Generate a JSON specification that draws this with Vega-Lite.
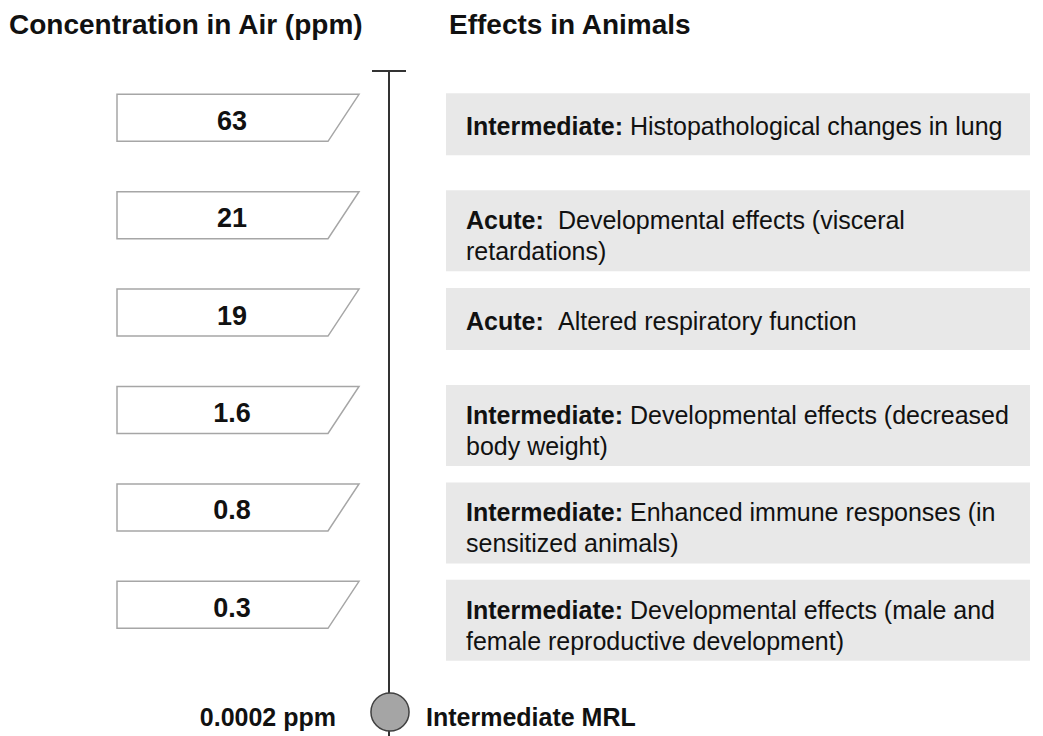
{
  "$schema": "https://vega.github.io/schema/vega-lite/v6.json",
  "width": 1043,
  "height": 736,
  "padding": 0,
  "autosize": {"type": "none"},
  "background": "white",
  "config": {"view": {"stroke": null}, "text": {"font": "Liberation Sans", "color": "#111111"}},
  "datasets": {
    "effects": [
      {"conc": "63", "duration": "Intermediate", "prefix": "Intermediate:", "line1": "Histopathological changes in lung", "line2": "", "lines": 1},
      {"conc": "21", "duration": "Acute", "prefix": "Acute:", "line1": "Developmental effects (visceral", "line2": "retardations)", "lines": 2},
      {"conc": "19", "duration": "Acute", "prefix": "Acute:", "line1": "Altered respiratory function", "line2": "", "lines": 1},
      {"conc": "1.6", "duration": "Intermediate", "prefix": "Intermediate:", "line1": "Developmental effects (decreased", "line2": "body weight)", "lines": 2},
      {"conc": "0.8", "duration": "Intermediate", "prefix": "Intermediate:", "line1": "Enhanced immune responses (in", "line2": "sensitized animals)", "lines": 2},
      {"conc": "0.3", "duration": "Intermediate", "prefix": "Intermediate:", "line1": "Developmental effects (male and", "line2": "female reproductive development)", "lines": 2}
    ],
    "mrl": [
      {"conc": "MRL", "value": "0.0002 ppm", "label": "Intermediate MRL"}
    ],
    "headers": [
      {"left": "Concentration in Air (ppm)", "right": "Effects in Animals"}
    ]
  },
  "layer": [
    {
      "data": {"name": "headers"},
      "mark": {"type": "text", "align": "left", "baseline": "middle", "fontSize": 28, "fontWeight": "bold", "yOffset": -92.1},
      "encoding": {
        "x": {"datum": 9, "type": "quantitative", "scale": {"domain": [0, 1043], "nice": false, "zero": false}, "axis": null},
        "y": {"datum": "63", "type": "nominal", "scale": {"domain": ["63", "21", "19", "1.6", "0.8", "0.3", "MRL"], "range": [69.1, 750.9], "paddingInner": 0, "paddingOuter": 0}, "axis": null},
        "text": {"field": "left"}
      }
    },
    {
      "data": {"name": "headers"},
      "mark": {"type": "text", "align": "left", "baseline": "middle", "fontSize": 28, "fontWeight": "bold", "yOffset": -92.1},
      "encoding": {
        "x": {"datum": 449, "type": "quantitative", "scale": {"domain": [0, 1043], "nice": false, "zero": false}, "axis": null},
        "y": {"datum": "63", "type": "nominal", "scale": {"domain": ["63", "21", "19", "1.6", "0.8", "0.3", "MRL"], "range": [69.1, 750.9], "paddingInner": 0, "paddingOuter": 0}, "axis": null},
        "text": {"field": "right"}
      }
    },
    {
      "data": {"name": "mrl"},
      "mark": {"type": "rule", "stroke": "#333333", "strokeWidth": 2},
      "encoding": {
        "x": {"datum": 389, "type": "quantitative", "scale": {"domain": [0, 1043], "nice": false, "zero": false}, "axis": null},
        "y": {"datum": "63", "type": "nominal", "bandPosition": 0.0195, "scale": {"domain": ["63", "21", "19", "1.6", "0.8", "0.3", "MRL"], "range": [69.1, 750.9], "paddingInner": 0, "paddingOuter": 0}, "axis": null},
        "y2": {"datum": "MRL", "bandPosition": 1}
      }
    },
    {
      "data": {"name": "mrl"},
      "mark": {"type": "rule", "stroke": "#333333", "strokeWidth": 2},
      "encoding": {
        "x": {"datum": 372, "type": "quantitative", "scale": {"domain": [0, 1043], "nice": false, "zero": false}, "axis": null},
        "x2": {"datum": 406},
        "y": {"datum": "63", "type": "nominal", "bandPosition": 0.0195, "scale": {"domain": ["63", "21", "19", "1.6", "0.8", "0.3", "MRL"], "range": [69.1, 750.9], "paddingInner": 0, "paddingOuter": 0}, "axis": null}
      }
    },
    {
      "data": {"name": "effects"},
      "mark": {"type": "point", "shape": "M-1,-0.1942 L1,-0.1942 L0.7438,0.1942 L-1,0.1942 Z", "size": 58564, "filled": true, "fill": "white", "stroke": "#a6a6a6", "strokeWidth": 1.5, "opacity": 1},
      "encoding": {
        "x": {"datum": 238, "type": "quantitative", "scale": {"domain": [0, 1043], "nice": false, "zero": false}, "axis": null},
        "y": {"field": "conc", "type": "nominal", "scale": {"domain": ["63", "21", "19", "1.6", "0.8", "0.3", "MRL"], "range": [69.1, 750.9], "paddingInner": 0, "paddingOuter": 0}, "axis": null}
      }
    },
    {
      "data": {"name": "effects"},
      "mark": {"type": "text", "align": "center", "baseline": "middle", "fontSize": 27, "fontWeight": "bold", "dy": 4},
      "encoding": {
        "x": {"datum": 232, "type": "quantitative", "scale": {"domain": [0, 1043], "nice": false, "zero": false}, "axis": null},
        "y": {"field": "conc", "type": "nominal", "scale": {"domain": ["63", "21", "19", "1.6", "0.8", "0.3", "MRL"], "range": [69.1, 750.9], "paddingInner": 0, "paddingOuter": 0}, "axis": null},
        "text": {"field": "conc"}
      }
    },
    {
      "data": {"name": "effects"},
      "transform": [{"filter": "datum.lines === 1"}],
      "mark": {"type": "bar", "fill": "#e8e8e8", "height": 62, "yOffset": 6.5},
      "encoding": {
        "x": {"datum": 446, "type": "quantitative", "scale": {"domain": [0, 1043], "nice": false, "zero": false}, "axis": null},
        "x2": {"datum": 1030},
        "y": {"field": "conc", "type": "nominal", "scale": {"domain": ["63", "21", "19", "1.6", "0.8", "0.3", "MRL"], "range": [69.1, 750.9], "paddingInner": 0, "paddingOuter": 0}, "axis": null}
      }
    },
    {
      "data": {"name": "effects"},
      "transform": [{"filter": "datum.lines === 2"}],
      "mark": {"type": "bar", "fill": "#e8e8e8", "height": 81, "yOffset": 15.5},
      "encoding": {
        "x": {"datum": 446, "type": "quantitative", "scale": {"domain": [0, 1043], "nice": false, "zero": false}, "axis": null},
        "x2": {"datum": 1030},
        "y": {"field": "conc", "type": "nominal", "scale": {"domain": ["63", "21", "19", "1.6", "0.8", "0.3", "MRL"], "range": [69.1, 750.9], "paddingInner": 0, "paddingOuter": 0}, "axis": null}
      }
    },
    {
      "data": {"name": "effects"},
      "mark": {"type": "text", "align": "left", "baseline": "middle", "fontSize": 25, "fontWeight": "bold", "dy": {"expr": "datum.lines === 2 ? 6 : 9.5"}},
      "encoding": {
        "x": {"datum": 466, "type": "quantitative", "scale": {"domain": [0, 1043], "nice": false, "zero": false}, "axis": null},
        "y": {"field": "conc", "type": "nominal", "scale": {"domain": ["63", "21", "19", "1.6", "0.8", "0.3", "MRL"], "range": [69.1, 750.9], "paddingInner": 0, "paddingOuter": 0}, "axis": null},
        "text": {"field": "prefix"}
      }
    },
    {
      "data": {"name": "effects"},
      "mark": {"type": "text", "align": "left", "baseline": "middle", "fontSize": 25, "dx": {"expr": "datum.duration === 'Acute' ? 92 : 164"}, "dy": {"expr": "datum.lines === 2 ? 6 : 9.5"}},
      "encoding": {
        "x": {"datum": 466, "type": "quantitative", "scale": {"domain": [0, 1043], "nice": false, "zero": false}, "axis": null},
        "y": {"field": "conc", "type": "nominal", "scale": {"domain": ["63", "21", "19", "1.6", "0.8", "0.3", "MRL"], "range": [69.1, 750.9], "paddingInner": 0, "paddingOuter": 0}, "axis": null},
        "text": {"field": "line1"}
      }
    },
    {
      "data": {"name": "effects"},
      "transform": [{"filter": "datum.lines === 2"}],
      "mark": {"type": "text", "align": "left", "baseline": "middle", "fontSize": 25, "dy": 37},
      "encoding": {
        "x": {"datum": 466, "type": "quantitative", "scale": {"domain": [0, 1043], "nice": false, "zero": false}, "axis": null},
        "y": {"field": "conc", "type": "nominal", "scale": {"domain": ["63", "21", "19", "1.6", "0.8", "0.3", "MRL"], "range": [69.1, 750.9], "paddingInner": 0, "paddingOuter": 0}, "axis": null},
        "text": {"field": "line2"}
      }
    },
    {
      "data": {"name": "mrl"},
      "mark": {"type": "point", "shape": "circle", "size": 1452, "filled": true, "fill": "#a5a5a5", "stroke": "#404040", "strokeWidth": 1.5, "opacity": 1, "yOffset": 9.8},
      "encoding": {
        "x": {"datum": 390, "type": "quantitative", "scale": {"domain": [0, 1043], "nice": false, "zero": false}, "axis": null},
        "y": {"field": "conc", "type": "nominal", "scale": {"domain": ["63", "21", "19", "1.6", "0.8", "0.3", "MRL"], "range": [69.1, 750.9], "paddingInner": 0, "paddingOuter": 0}, "axis": null}
      }
    },
    {
      "data": {"name": "mrl"},
      "mark": {"type": "text", "align": "right", "baseline": "middle", "fontSize": 25, "fontWeight": "bold", "dy": 16},
      "encoding": {
        "x": {"datum": 336, "type": "quantitative", "scale": {"domain": [0, 1043], "nice": false, "zero": false}, "axis": null},
        "y": {"field": "conc", "type": "nominal", "scale": {"domain": ["63", "21", "19", "1.6", "0.8", "0.3", "MRL"], "range": [69.1, 750.9], "paddingInner": 0, "paddingOuter": 0}, "axis": null},
        "text": {"field": "value"}
      }
    },
    {
      "data": {"name": "mrl"},
      "mark": {"type": "text", "align": "left", "baseline": "middle", "fontSize": 25, "fontWeight": "bold", "dy": 16},
      "encoding": {
        "x": {"datum": 426, "type": "quantitative", "scale": {"domain": [0, 1043], "nice": false, "zero": false}, "axis": null},
        "y": {"field": "conc", "type": "nominal", "scale": {"domain": ["63", "21", "19", "1.6", "0.8", "0.3", "MRL"], "range": [69.1, 750.9], "paddingInner": 0, "paddingOuter": 0}, "axis": null},
        "text": {"field": "label"}
      }
    }
  ]
}
